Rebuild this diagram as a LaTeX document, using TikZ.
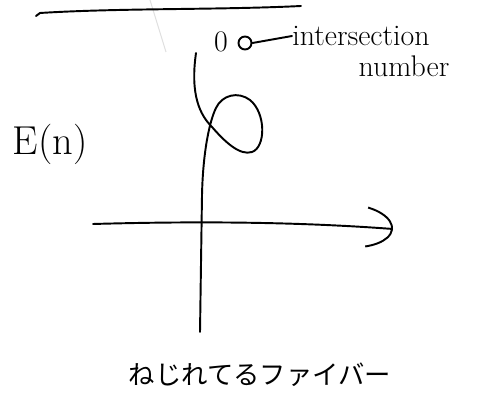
\documentclass[tikz,border=0pt]{standalone}
\usepackage{fontspec}
\usetikzlibrary{arrows.meta}
\newfontfamily\jpfont{Noto Sans CJK JP}
\tikzset{
  ink/.style={line width=1.1pt, line cap=round, line join=round},
  hand/.style={inner sep=0pt, font=\fontsize{17}{20}\selectfont},
}
\begin{document}
\begin{tikzpicture}[x=0.02cm, y=-0.02cm]
\useasboundingbox (0,0) rectangle (503,401);

% faint stroke from the scan
\draw[black!12, line width=0.6pt] (150,0) -- (166,52);

% top line
\draw[ink] (36,16) -- (40,13) .. controls (120,8) and (220,10) .. (301,6);

% labels
\node[hand] (zero) at (221,42) {0};
\node[ink, draw, circle, minimum size=13*0.02cm, inner sep=0pt] (ring) at (245,43) {};
\node[hand, anchor=west] (inter) at (292,36) {intersection};
\node[hand] (numb) at (404,66) {number};
\draw[ink] (ring.east) -- (inter.west);

\node[inner sep=0pt] (en) at (50,144) {\fontsize{23}{26}\selectfont E(n)};

% axes
\coordinate (xl) at (93,224);
\coordinate (xr) at (393,229);
\coordinate (yt) at (202,195);
\coordinate (yb) at (200,332);
\draw[ink, -{Arc Barb[length=9mm, width=9mm, arc=130]}]
(xl)
.. controls (200,221) and (300,222) ..
(xr);
\draw[ink] (yt) -- (yb);

% twisted fiber
\draw[ink]
(196,53)
.. controls (190,95) and (200,115) .. (212,127)
.. controls (225,142) and (240,156) .. (252,152)
.. controls (266,147) and (266,113) .. (250,100)
.. controls (238,91) and (222,95) .. (216,108)
.. controls (210,120) and (203,150) .. (yt);

\node[inner sep=0pt] (fiber) at (260,375) {\jpfont\fontsize{15}{18}\selectfont ねじれてるファイバー};

\end{tikzpicture}
\end{document}
